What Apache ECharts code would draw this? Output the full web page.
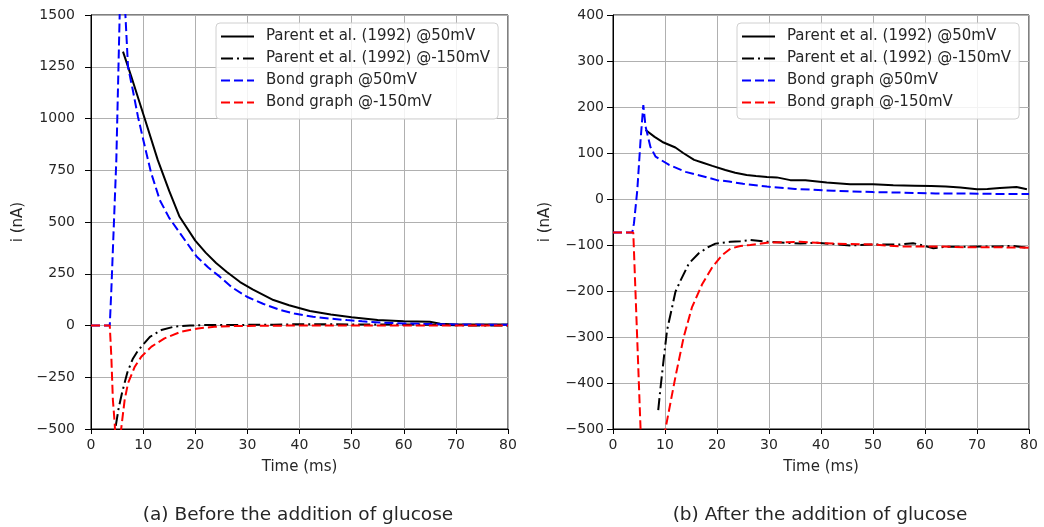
<!DOCTYPE html>
<html>
<head>
<meta charset="utf-8">
<script src="https://cdn.jsdelivr.net/npm/echarts@6/dist/echarts.min.js"></script>
<style>
html,body{margin:0;padding:0;background:#fff;}
#chart{width:1044px;height:527px;}
</style>
</head>
<body>
<div id="chart"></div>
<script>
// ---------- data ----------
const seriesNames = ['Parent et al. (1992) @50mV', 'Parent et al. (1992) @-150mV', 'Bond graph @50mV', 'Bond graph @-150mV'];
const xTicks = [0, 10, 20, 30, 40, 50, 60, 70, 80];
const yTicksLeft = [-500, -250, 0, 250, 500, 750, 1000, 1250, 1500];
const yTicksRight = [-500, -400, -300, -200, -100, 0, 100, 200, 300, 400];
const captions = ['(a) Before the addition of glucose', '(b) After the addition of glucose'];

// (a) before glucose
const aParent50T = [6.14, 7.7, 10.3, 12.8, 15, 17, 20, 22, 24, 26, 28.6, 31, 35, 38, 42, 46, 50, 55, 60, 65, 67, 70, 75, 80];
const aParent50V = [1323, 1205, 1000, 800, 650, 525, 410, 352, 302, 260, 210, 175, 123, 98, 70, 53, 40, 27, 21, 18, 8, 5, 5, 5];
const aParent150T = [4.75, 5.3, 6.0, 7.0, 8.0, 9.0, 10, 11.3, 13.5, 16, 19, 22, 25, 30, 35, 40, 45, 50, 55, 60, 65, 70, 75, 80];
const aParent150V = [-485, -400, -320, -225, -162, -122, -92, -55, -22, -5, 0, 2, 2, 3, 4, 6, 6, 5, 5, 5, 4, 1, 0, 0];
const aBond50T = [0, 3.6, 3.9, 4.86, 5.5, 6.0, 6.6, 7.1, 8, 9, 10, 11.5, 13.2, 15, 17.1, 20.3, 22.5, 24.7, 27, 29.9, 33, 36.3, 39, 42.6, 46, 49.1, 52, 55.4, 60, 65, 70, 75, 80];
const aBond50V = [0, 0, 170, 800, 1500, 2100, 1500, 1250, 1140, 1010, 900, 740, 606, 520, 445, 332, 280, 236, 185, 139, 105, 75, 58, 42, 33, 26, 20, 14, 10, 7, 5, 4, 4];
const aBond150T = [0, 3.6, 3.9, 4.2, 4.55, 5.0, 5.8, 6.45, 7.1, 8.4, 9.65, 11.6, 14.1, 17.3, 20.5, 23.7, 27, 30, 35, 40, 50, 60, 70, 80];
const aBond150V = [0, 0, -150, -360, -473, -750, -497, -360, -279, -199, -151, -102, -62, -30, -14, -6, -3, -2, -1, 0, 0, 0, 0, 0];

// (b) after glucose
const bParent50T = [6.27, 8, 9.5, 12.0, 13.5, 15.6, 17, 19.1, 21.6, 23.5, 25.7, 27.5, 29.6, 31.5, 34.1, 37, 41.1, 45.6, 50, 53.9, 58, 61.2, 64, 66.8, 70, 72, 74.4, 77.6, 79.6];
const bParent50V = [150, 135, 124, 112, 100, 85, 80, 72, 63, 57, 52, 50, 48, 47, 41, 41, 36, 32, 32, 30, 29, 28, 27, 25, 21, 22, 24, 26, 21];
const bParent150T = [8.7, 9.15, 9.8, 10.4, 11.1, 12.0, 13.0, 14.6, 16.5, 18.4, 19.7, 22.6, 24.5, 26.4, 29.6, 33, 36, 39.2, 42.5, 45.6, 50, 55.2, 57.7, 60, 61.6, 64, 68, 71, 74.4, 77, 79.6];
const bParent150V = [-459, -409, -343, -285, -249, -202, -177, -140, -118, -104, -97, -93, -92, -89, -93, -95, -97, -95, -98, -101, -99, -99, -96, -102, -107, -104, -104, -103, -103, -102, -106];
const bBond50T = [0, 3.7, 4.03, 4.67, 5.3, 5.83, 6.27, 7.2, 8.2, 10.8, 13.95, 17.8, 20, 22.3, 25, 29.6, 35, 42.4, 50, 55.2, 62, 68, 74, 80];
const bBond50V = [-73, -73, -53, 19, 128, 204, 157, 113, 92, 74, 59, 48, 41, 38, 33, 27, 22, 18, 15, 14, 12, 12, 11, 11];
const bBond150T = [0, 3.9, 4.0, 5.3, 5.8, 6.5, 7.5, 8.5, 9.3, 10.1, 12, 13.6, 15.2, 17.2, 19.1, 21, 22.6, 24.5, 26.4, 29.6, 36, 42.4, 50, 55.2, 61.6, 68, 74, 80];
const bBond150V = [-73, -73, -75, -500, -780, -740, -680, -610, -555, -499, -387, -300, -235, -184, -148, -122, -108, -102, -100, -95, -93, -97, -99, -103, -103, -105, -105, -106];

// ---------- chart ----------
const zip = (t, v) => t.map((x, i) => [x, v[i]]);
const FONT = 'DejaVu Sans';
const TXT = '#262626';
const minusFmt = v => (v < 0 ? '\u2212' + (-v) : String(v));

const styles = [
  { color: '#000000', type: 'solid' },
  { color: '#000000', type: [12, 4, 2, 4] },
  { color: '#0000ff', type: [9, 4] },
  { color: '#ff0000', type: [9, 4] }
];

function mkSeries(idx, data, gi) {
  return {
    name: seriesNames[idx],
    type: 'line',
    xAxisIndex: gi, yAxisIndex: gi,
    data: data,
    symbol: 'none',
    showSymbol: false,
    smooth: false,
    clip: true,
    animation: false,
    lineStyle: { color: styles[idx].color, width: 2, type: styles[idx].type },
    itemStyle: { color: styles[idx].color },
    z: 3 + idx
  };
}

function xAxisCfg(gi) {
  return {
    gridIndex: gi, type: 'value', min: 0, max: 80, interval: 10,
    name: 'Time (ms)', nameLocation: 'middle', nameGap: 31,
    nameTextStyle: { fontFamily: FONT, fontSize: 15, color: TXT },
    axisLine: { show: true, onZero: false, lineStyle: { color: '#000', width: 1 } },
    axisTick: { show: true, inside: false, length: 5, lineStyle: { color: '#000', width: 1 } },
    axisLabel: { fontFamily: FONT, fontSize: 14, color: TXT, margin: 9, formatter: minusFmt },
    splitLine: { show: true, lineStyle: { color: '#b0b0b0', width: 1 } }
  };
}
function yAxisCfg(gi, min, max, interval, gap, margin) {
  return {
    gridIndex: gi, type: 'value', min: min, max: max, interval: interval,
    name: 'i (nA)', nameLocation: 'middle', nameGap: gap, nameRotate: 90,
    nameTextStyle: { fontFamily: FONT, fontSize: 15, color: TXT },
    axisLine: { show: true, onZero: false, lineStyle: { color: '#000', width: 1 } },
    axisTick: { show: true, inside: false, length: 6, lineStyle: { color: '#000', width: 1 } },
    axisLabel: { fontFamily: FONT, fontSize: 14, color: TXT, margin: margin, formatter: minusFmt },
    splitLine: { show: true, lineStyle: { color: '#b0b0b0', width: 1 } }
  };
}
function legendCfg(left) {
  return {
    data: seriesNames,
    orient: 'vertical',
    left: left, top: 23,
    itemWidth: 33, itemHeight: 14, itemGap: 7,
    padding: [6, 8, 9, 4],
    backgroundColor: 'rgba(255,255,255,0.85)',
    borderColor: '#d0d0d0', borderWidth: 1, borderRadius: 4,
    itemStyle: { opacity: 0, borderWidth: 0 },
    lineStyle: { width: 2 },
    textStyle: { fontFamily: FONT, fontSize: 15, color: TXT, padding: [0, 0, 0, 7], lineHeight: 14 },
    selectedMode: false
  };
}

const chart = echarts.init(document.getElementById('chart'), null, { renderer: 'canvas' });
chart.setOption({
  animation: false,
  backgroundColor: '#ffffff',
  grid: [
    { left: 91, top: 15, width: 417, height: 414, show: true, borderColor: '#000', borderWidth: 1, backgroundColor: 'transparent' },
    { left: 613, top: 15, width: 416, height: 414, show: true, borderColor: '#000', borderWidth: 1, backgroundColor: 'transparent' }
  ],
  xAxis: [xAxisCfg(0), xAxisCfg(1)],
  yAxis: [
    yAxisCfg(0, yTicksLeft[0], yTicksLeft[yTicksLeft.length - 1], 250, 65, 16),
    yAxisCfg(1, yTicksRight[0], yTicksRight[yTicksRight.length - 1], 100, 60, 9)
  ],
  legend: [legendCfg(216), legendCfg(737)],
  series: [
    mkSeries(0, zip(aParent50T, aParent50V), 0),
    mkSeries(1, zip(aParent150T, aParent150V), 0),
    mkSeries(2, zip(aBond50T, aBond50V), 0),
    mkSeries(3, zip(aBond150T, aBond150V), 0),
    mkSeries(0, zip(bParent50T, bParent50V), 1),
    mkSeries(1, zip(bParent150T, bParent150V), 1),
    mkSeries(2, zip(bBond50T, bBond50V), 1),
    mkSeries(3, zip(bBond150T, bBond150V), 1)
  ],
  graphic: [
    { type: 'text', silent: true,
      x: 298, y: 515, style: { text: captions[0], fontFamily: FONT, fontSize: 18.5, fill: TXT, align: 'center', verticalAlign: 'middle' } },
    { type: 'text', silent: true,
      x: 820, y: 515, style: { text: captions[1], fontFamily: FONT, fontSize: 18.5, fill: TXT, align: 'center', verticalAlign: 'middle' } }
  ]
});
</script>
</body>
</html>
